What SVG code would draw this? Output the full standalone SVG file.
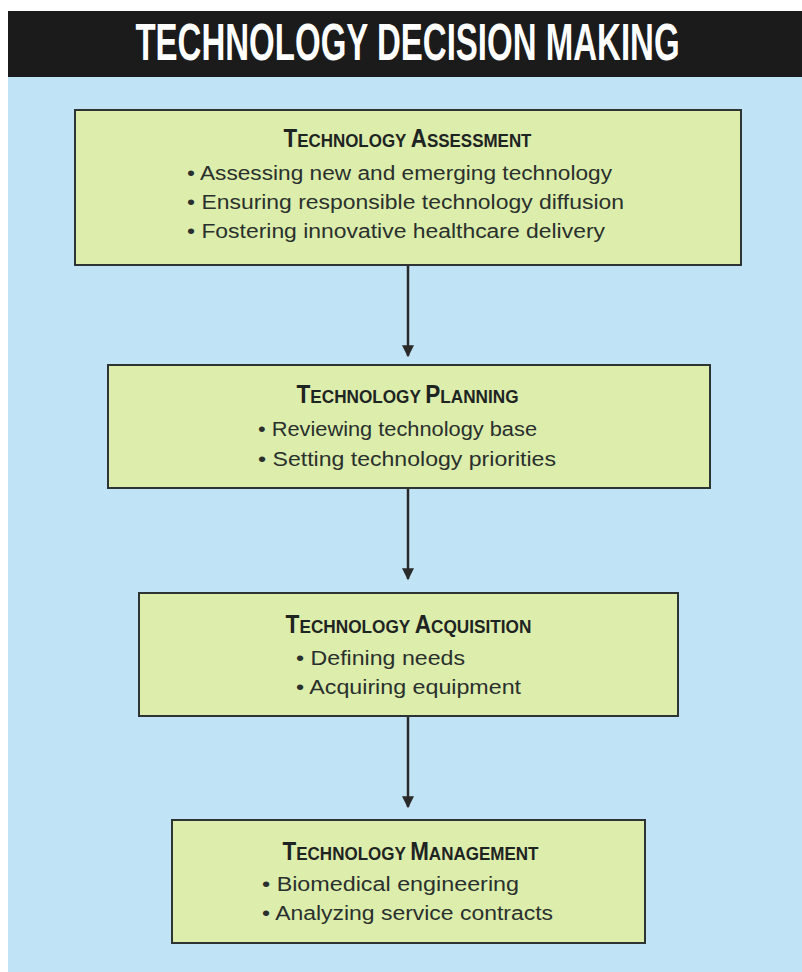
<svg xmlns="http://www.w3.org/2000/svg" width="802" height="972" viewBox="0 0 802 972">
<defs>
<style>
.box{fill:#dcedac;stroke:#2e3433;stroke-width:2}
.hd{font-family:"Liberation Sans",Arial,sans-serif;font-weight:bold;fill:#1e2422;text-anchor:middle}
.big{font-size:25px}
.sm{font-size:19px}
.bl{font-family:"Liberation Sans",Arial,sans-serif;font-size:20px;fill:#2a302d}
.conn{stroke:#2a2a2a;stroke-width:2.5;fill:none}
</style>
<marker id="ah" viewBox="0 0 10 10" refX="9" refY="5" markerWidth="7.2" markerHeight="4.8" markerUnits="strokeWidth" orient="auto">
<path d="M0,0 L10,5 L0,10 z" fill="#2a2a2a"/>
</marker>
</defs>
<rect x="0" y="0" width="802" height="972" fill="#ffffff"/>
<rect x="8" y="76" width="794" height="896" fill="#c0e4f6"/>
<rect x="8" y="11" width="794" height="66" fill="#1b1b1b"/>
<text transform="translate(407.5,60) scale(0.6476,1)" x="0" y="0" text-anchor="middle" font-family="Liberation Sans,Arial,sans-serif" font-weight="bold" font-size="51" fill="#ffffff">TECHNOLOGY DECISION MAKING</text>

<g id="node-assessment">
<rect class="box" x="75" y="110" width="666" height="155"/>
<text class="hd" transform="translate(407.5,147) scale(0.8925,1)" x="0" y="0"><tspan class="big">T</tspan><tspan class="sm">ECHNOLOGY </tspan><tspan class="big">A</tspan><tspan class="sm">SSESSMENT</tspan></text>
<text class="bl" x="187" y="180" textLength="425" lengthAdjust="spacingAndGlyphs">• Assessing new and emerging technology</text>
<text class="bl" x="187" y="209" textLength="437" lengthAdjust="spacingAndGlyphs">• Ensuring responsible technology diffusion</text>
<text class="bl" x="187" y="238" textLength="418" lengthAdjust="spacingAndGlyphs">• Fostering innovative healthcare delivery</text>
</g>

<g id="node-planning">
<rect class="box" x="108" y="365" width="602" height="123"/>
<text class="hd" transform="translate(407.5,403) scale(0.903,1)" x="0" y="0"><tspan class="big">T</tspan><tspan class="sm">ECHNOLOGY </tspan><tspan class="big">P</tspan><tspan class="sm">LANNING</tspan></text>
<text class="bl" x="258" y="436" textLength="279" lengthAdjust="spacingAndGlyphs">• Reviewing technology base</text>
<text class="bl" x="258" y="466" textLength="298" lengthAdjust="spacingAndGlyphs">• Setting technology priorities</text>
</g>

<g id="node-acquisition">
<rect class="box" x="139" y="593" width="539" height="123"/>
<text class="hd" transform="translate(408.5,633) scale(0.906,1)" x="0" y="0"><tspan class="big">T</tspan><tspan class="sm">ECHNOLOGY </tspan><tspan class="big">A</tspan><tspan class="sm">CQUISITION</tspan></text>
<text class="bl" x="296" y="665" textLength="169" lengthAdjust="spacingAndGlyphs">• Defining needs</text>
<text class="bl" x="296" y="694" textLength="225" lengthAdjust="spacingAndGlyphs">• Acquiring equipment</text>
</g>

<g id="node-management">
<rect class="box" x="172" y="820" width="473" height="123"/>
<text class="hd" transform="translate(410.5,860) scale(0.896,1)" x="0" y="0"><tspan class="big">T</tspan><tspan class="sm">ECHNOLOGY </tspan><tspan class="big">M</tspan><tspan class="sm">ANAGEMENT</tspan></text>
<text class="bl" x="262" y="891" textLength="257" lengthAdjust="spacingAndGlyphs">• Biomedical engineering</text>
<text class="bl" x="262" y="920" textLength="291" lengthAdjust="spacingAndGlyphs">• Analyzing service contracts</text>
</g>

<g id="connectors">
<line class="conn" x1="408" y1="266" x2="408" y2="356" marker-end="url(#ah)"/>
<line class="conn" x1="408" y1="489" x2="408" y2="579" marker-end="url(#ah)"/>
<line class="conn" x1="408" y1="717" x2="408" y2="807" marker-end="url(#ah)"/>
</g>
</svg>
